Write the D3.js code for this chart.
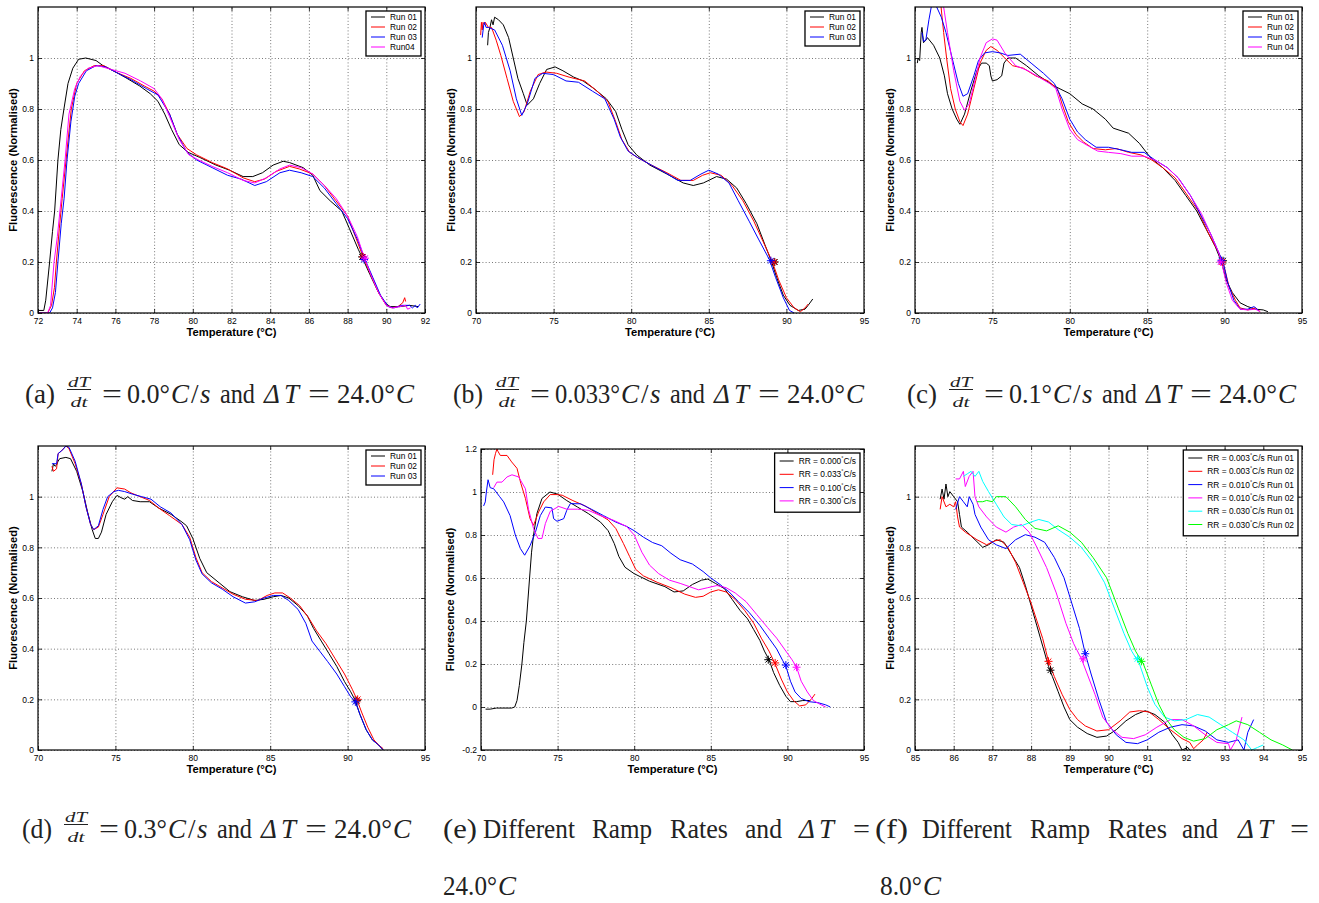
<!DOCTYPE html>
<html><head><meta charset="utf-8">
<script src="https://cdn.jsdelivr.net/npm/d3@7"></script>
<style>body{margin:0;background:#fff}svg{display:block}</style>
</head><body>
<svg id="c" width="1319" height="903"></svg>
<script>
// ---------------- DATA ----------------
// Panel (a): dT/dt = 0.0, ΔT = 24
const aRun01 = [[72.0,0.01],[72.3,0.01],[72.4,0.05],[72.6,0.2],[72.75,0.32],[72.86,0.4],[73.03,0.6],[73.18,0.72],[73.34,0.8],[73.55,0.9],[73.8,0.96],[74.1,0.995],[74.47,1.0],[75.0,0.99],[75.36,0.97],[75.9,0.95],[76.6,0.92],[77.26,0.89],[77.8,0.86],[78.2,0.83],[78.55,0.78],[78.9,0.72],[79.3,0.66],[79.76,0.63],[80.36,0.61],[81.2,0.58],[81.9,0.56],[82.6,0.535],[83.1,0.535],[83.6,0.55],[84.15,0.58],[84.67,0.595],[85.0,0.59],[85.7,0.57],[86.2,0.54],[86.57,0.48],[87.1,0.44],[87.7,0.4],[88.1,0.33],[88.55,0.25],[88.8,0.21],[89.16,0.15],[89.6,0.08],[89.93,0.04],[90.2,0.025],[90.7,0.025],[91.2,0.03],[91.66,0.025]];
const aRun02 = [[72.0,0.0],[72.5,0.0],[72.7,0.03],[72.85,0.1],[72.95,0.2],[73.1,0.33],[73.25,0.45],[73.45,0.6],[73.72,0.8],[74.0,0.9],[74.4,0.95],[74.9,0.97],[75.4,0.97],[76.0,0.945],[76.8,0.92],[77.5,0.89],[78.0,0.87],[78.4,0.84],[78.8,0.78],[79.2,0.7],[79.7,0.645],[80.2,0.62],[81.0,0.59],[81.8,0.565],[82.6,0.53],[83.2,0.515],[83.7,0.525],[84.3,0.555],[85.0,0.575],[85.5,0.565],[86.2,0.545],[86.8,0.5],[87.4,0.44],[88.0,0.38],[88.4,0.3],[88.8,0.22],[89.2,0.15],[89.6,0.08],[90.0,0.03],[90.3,0.02],[90.6,0.025],[90.85,0.04],[90.95,0.06],[91.0,0.045]];
const aRun03 = [[72.0,0.0],[72.6,0.0],[72.75,0.02],[72.9,0.08],[73.03,0.2],[73.2,0.35],[73.35,0.45],[73.5,0.6],[73.7,0.75],[73.9,0.85],[74.1,0.9],[74.5,0.95],[75.0,0.97],[75.5,0.965],[76.0,0.945],[76.8,0.915],[77.6,0.88],[78.2,0.855],[78.8,0.78],[79.2,0.7],[79.7,0.63],[80.2,0.6],[81.0,0.57],[81.8,0.54],[82.5,0.525],[83.2,0.5],[83.8,0.515],[84.5,0.55],[85.0,0.56],[85.6,0.55],[86.2,0.535],[86.8,0.49],[87.4,0.43],[88.0,0.37],[88.5,0.29],[88.9,0.21],[89.3,0.14],[89.7,0.07],[90.1,0.025],[90.4,0.02],[90.8,0.03],[91.2,0.03],[91.35,0.02],[91.5,0.03],[91.6,0.02],[91.75,0.035]];
const aRun04 = [[72.0,0.0],[72.5,0.0],[72.65,0.03],[72.83,0.2],[73.0,0.3],[73.2,0.45],[73.4,0.6],[73.6,0.78],[73.9,0.88],[74.2,0.93],[74.6,0.96],[75.1,0.97],[75.8,0.955],[76.5,0.94],[77.3,0.91],[78.0,0.88],[78.4,0.84],[78.8,0.77],[79.3,0.68],[79.8,0.62],[80.3,0.6],[81.0,0.575],[81.8,0.55],[82.6,0.52],[83.2,0.51],[83.8,0.53],[84.5,0.565],[85.0,0.58],[85.6,0.57],[86.2,0.545],[86.8,0.5],[87.4,0.45],[88.0,0.38],[88.5,0.3],[88.85,0.22],[89.2,0.15],[89.6,0.08],[90.0,0.03],[90.3,0.02],[90.7,0.025],[91.0,0.03],[91.1,0.015],[91.25,0.02]];
const aMarkers = [[88.75,0.22],[88.8,0.22],[88.85,0.21],[88.9,0.215]];
const aLabels = ["Run 01","Run 02","Run 03","Run04"];

// Panel (b): dT/dt = 0.033
const bRun01 = [[70.75,1.05],[70.8,1.1],[70.9,1.12],[71.0,1.15],[71.1,1.13],[71.2,1.16],[71.45,1.15],[71.76,1.13],[72.1,1.08],[72.4,1.0],[72.7,0.92],[73.05,0.86],[73.3,0.815],[73.7,0.84],[74.1,0.9],[74.55,0.955],[75.1,0.965],[75.6,0.95],[76.3,0.925],[76.9,0.91],[77.6,0.88],[78.4,0.84],[79.0,0.79],[79.4,0.72],[79.8,0.66],[80.35,0.62],[81.2,0.58],[82.3,0.545],[83.35,0.51],[84.0,0.5],[84.65,0.51],[85.5,0.535],[86.15,0.525],[86.8,0.49],[87.4,0.43],[88.1,0.35],[88.6,0.27],[89.05,0.2],[89.37,0.14],[89.8,0.07],[90.23,0.03],[90.77,0.01],[91.2,0.015],[91.4,0.03],[91.7,0.055]];
const bRun02 = [[70.3,1.09],[70.35,1.14],[70.4,1.11],[70.45,1.14],[70.55,1.13],[70.6,1.14],[70.8,1.12],[71.0,1.12],[71.3,1.07],[71.6,1.01],[72.0,0.92],[72.4,0.83],[72.8,0.77],[73.1,0.79],[73.5,0.87],[74.0,0.935],[74.5,0.945],[75.2,0.94],[76.0,0.925],[77.0,0.91],[77.8,0.87],[78.5,0.83],[79.0,0.75],[79.4,0.68],[79.9,0.63],[80.4,0.61],[81.3,0.58],[82.3,0.55],[83.2,0.52],[84.0,0.52],[84.6,0.54],[85.1,0.55],[85.8,0.54],[86.5,0.5],[87.2,0.44],[87.9,0.36],[88.5,0.28],[89.1,0.2],[89.5,0.13],[90.0,0.06],[90.5,0.02],[90.9,0.005],[91.2,0.02],[91.4,0.035]];
const bRun03 = [[70.4,1.08],[70.5,1.13],[70.55,1.14],[70.65,1.12],[70.8,1.12],[71.2,1.11],[71.7,1.05],[72.2,0.95],[72.6,0.84],[72.95,0.775],[73.3,0.82],[73.8,0.92],[74.3,0.94],[75.0,0.935],[75.8,0.91],[76.6,0.905],[77.5,0.87],[78.3,0.84],[78.9,0.76],[79.3,0.69],[79.8,0.635],[80.4,0.61],[81.3,0.58],[82.2,0.55],[83.0,0.52],[83.8,0.52],[84.5,0.545],[85.0,0.56],[85.6,0.545],[86.3,0.51],[86.9,0.44],[87.6,0.36],[88.2,0.29],[88.9,0.21],[89.3,0.14],[89.8,0.06],[90.2,0.01],[90.5,0.0]];
const bMarkers = [[89.25,0.2],[89.2,0.2],[89.0,0.205]];
const bLabels = ["Run 01","Run 02","Run 03"];

// Panel (c): dT/dt = 0.1
const cRun01 = [[70.15,0.98],[70.2,1.0],[70.3,0.99],[70.4,1.1],[70.45,1.12],[70.55,1.06],[70.7,1.07],[70.8,1.08],[71.2,1.05],[71.6,1.0],[71.9,0.93],[72.1,0.86],[72.4,0.8],[72.7,0.76],[72.9,0.74],[73.2,0.78],[73.6,0.87],[74.0,0.95],[74.3,0.98],[74.6,0.98],[74.8,0.97],[74.9,0.93],[75.0,0.91],[75.3,0.915],[75.6,0.93],[75.75,0.98],[76.0,1.0],[76.5,1.0],[77.2,0.97],[78.0,0.93],[79.0,0.89],[80.0,0.86],[80.8,0.82],[81.5,0.8],[82.3,0.76],[82.8,0.725],[83.8,0.705],[84.5,0.665],[85.2,0.61],[86.0,0.57],[86.8,0.52],[87.5,0.46],[88.2,0.4],[88.8,0.33],[89.4,0.26],[89.8,0.2],[90.1,0.13],[90.5,0.08],[91.0,0.04],[91.5,0.025],[92.0,0.015],[92.5,0.012],[92.8,0.005]];
const cRun02 = [[71.65,1.22],[71.85,1.1],[72.04,1.0],[72.3,0.88],[72.6,0.8],[72.9,0.75],[73.1,0.735],[73.4,0.78],[73.8,0.88],[74.2,0.98],[74.6,1.03],[74.9,1.045],[75.3,1.03],[75.8,1.0],[76.3,0.97],[77.0,0.96],[77.8,0.93],[78.6,0.91],[79.2,0.88],[79.5,0.82],[79.9,0.75],[80.4,0.7],[80.9,0.67],[81.5,0.645],[82.3,0.64],[83.0,0.645],[83.8,0.63],[84.6,0.62],[85.3,0.6],[86.0,0.57],[86.8,0.53],[87.5,0.47],[88.3,0.4],[88.9,0.32],[89.5,0.25],[89.9,0.2],[90.3,0.1],[90.7,0.05],[91.0,0.02],[91.5,0.012],[92.0,0.02],[92.3,0.005]];
const cRun03 = [[70.45,1.1],[70.55,1.065],[70.7,1.07],[70.9,1.15],[71.05,1.2],[71.2,1.23],[71.4,1.2],[71.7,1.16],[72.0,1.1],[72.4,1.0],[72.8,0.9],[73.1,0.85],[73.4,0.86],[73.8,0.93],[74.1,0.99],[74.5,1.02],[75.0,1.025],[75.5,1.02],[76.0,1.01],[76.8,1.015],[77.5,0.98],[78.3,0.94],[79.0,0.9],[79.5,0.84],[80.0,0.76],[80.5,0.71],[81.0,0.68],[81.7,0.65],[82.5,0.65],[83.3,0.64],[84.0,0.63],[84.8,0.63],[85.5,0.6],[86.3,0.57],[87.0,0.53],[87.8,0.46],[88.5,0.38],[89.1,0.31],[89.6,0.24],[89.9,0.2],[90.2,0.12],[90.6,0.05],[91.0,0.015],[91.5,0.015],[91.9,0.025],[92.2,0.01]];
const cRun04 = [[71.8,1.22],[71.9,1.18],[72.1,1.1],[72.5,0.95],[72.9,0.83],[73.2,0.795],[73.5,0.82],[73.9,0.92],[74.2,1.0],[74.6,1.06],[75.0,1.075],[75.3,1.07],[75.8,1.02],[76.5,0.97],[77.3,0.95],[78.0,0.925],[78.7,0.9],[79.1,0.88],[79.5,0.8],[80.0,0.72],[80.5,0.68],[81.2,0.655],[81.8,0.635],[82.5,0.63],[83.3,0.625],[84.0,0.615],[84.8,0.615],[85.5,0.6],[86.3,0.57],[87.0,0.53],[87.8,0.46],[88.5,0.39],[89.1,0.31],[89.6,0.24],[89.8,0.2],[90.1,0.12],[90.5,0.05],[91.0,0.015],[91.5,0.012],[92.0,0.015],[92.3,0.005]];
const cMarkers = [[89.9,0.205],[89.85,0.2],[89.8,0.205],[89.75,0.2]];
const cLabels = ["Run 01","Run 02","Run 03","Run 04"];

// Panel (d): dT/dt = 0.3
const dRun01 = [[70.9,1.1],[71.0,1.13],[71.1,1.12],[71.2,1.125],[71.3,1.14],[71.4,1.15],[71.8,1.155],[72.1,1.15],[72.5,1.1],[72.9,1.02],[73.2,0.94],[73.5,0.87],[73.7,0.835],[73.9,0.835],[74.1,0.86],[74.4,0.93],[74.8,0.98],[75.1,1.005],[75.4,0.995],[75.6,0.99],[75.8,1.0],[76.1,0.985],[76.6,0.98],[77.2,0.98],[77.8,0.955],[78.6,0.93],[79.3,0.9],[79.6,0.885],[80.0,0.835],[80.45,0.756],[80.9,0.7],[81.7,0.66],[82.4,0.625],[83.2,0.605],[84.0,0.59],[84.6,0.595],[85.2,0.605],[85.7,0.61],[86.2,0.6],[86.8,0.57],[87.4,0.53],[87.8,0.48],[88.3,0.43],[88.8,0.38],[89.3,0.33],[89.8,0.27],[90.2,0.23],[90.5,0.195],[90.8,0.14],[91.2,0.08],[91.6,0.04],[92.0,0.02],[92.3,0.0]];
const dRun02 = [[70.9,1.12],[71.0,1.1],[71.2,1.11],[71.3,1.17],[71.5,1.18],[71.8,1.2],[72.0,1.19],[72.4,1.13],[72.8,1.05],[73.1,0.96],[73.4,0.89],[73.6,0.87],[73.9,0.88],[74.2,0.93],[74.6,1.0],[75.1,1.035],[75.6,1.03],[76.0,1.015],[76.6,1.0],[77.2,0.985],[77.8,0.955],[78.5,0.925],[79.3,0.89],[79.8,0.84],[80.2,0.76],[80.6,0.7],[81.2,0.665],[81.9,0.64],[82.6,0.615],[83.4,0.595],[84.2,0.59],[84.8,0.61],[85.3,0.62],[85.8,0.62],[86.3,0.6],[86.9,0.57],[87.5,0.52],[88.0,0.47],[88.6,0.42],[89.2,0.36],[89.8,0.3],[90.3,0.24],[90.6,0.2],[90.9,0.15],[91.3,0.09],[91.7,0.04],[92.0,0.02],[92.3,0.005]];
const dRun03 = [[70.9,1.13],[71.2,1.13],[71.3,1.17],[71.6,1.185],[71.8,1.2],[72.0,1.195],[72.4,1.14],[72.8,1.05],[73.1,0.96],[73.4,0.89],[73.6,0.87],[73.9,0.885],[74.2,0.95],[74.5,1.0],[74.9,1.02],[75.2,1.025],[75.6,1.02],[76.1,1.01],[76.7,1.0],[77.3,0.99],[77.9,0.96],[78.6,0.935],[79.3,0.89],[79.8,0.83],[80.2,0.75],[80.6,0.695],[81.2,0.66],[81.9,0.635],[82.6,0.605],[83.4,0.58],[84.0,0.585],[84.6,0.6],[85.2,0.61],[85.7,0.61],[86.2,0.59],[86.8,0.555],[87.3,0.5],[87.7,0.43],[88.2,0.39],[88.7,0.35],[89.3,0.3],[89.8,0.25],[90.2,0.21],[90.5,0.19],[90.8,0.14],[91.2,0.08],[91.6,0.04],[92.0,0.02],[92.3,0.0]];
const dMarkers = [[90.6,0.195],[90.65,0.2],[90.5,0.19]];
const dLabels = ["Run 01","Run 02","Run 03"];

// Panel (e): different ramp rates, ΔT = 24
const eRR000 = [[70.3,-0.01],[70.6,-0.01],[71.0,-0.005],[71.5,-0.005],[72.0,-0.005],[72.2,0.0],[72.35,0.03],[72.5,0.1],[72.67,0.2],[72.8,0.3],[72.96,0.4],[73.17,0.6],[73.3,0.72],[73.43,0.8],[73.65,0.9],[73.98,0.97],[74.5,1.0],[75.0,0.99],[75.6,0.96],[76.3,0.93],[77.0,0.9],[77.8,0.86],[78.3,0.82],[78.7,0.76],[79.0,0.7],[79.4,0.65],[80.0,0.62],[81.0,0.585],[82.0,0.56],[82.6,0.535],[83.2,0.54],[83.8,0.57],[84.4,0.59],[84.8,0.595],[85.3,0.575],[85.9,0.55],[86.4,0.5],[86.9,0.45],[87.4,0.41],[87.8,0.36],[88.2,0.31],[88.5,0.26],[88.8,0.22],[89.1,0.16],[89.5,0.1],[89.9,0.05],[90.2,0.025],[90.6,0.025],[91.0,0.03],[91.5,0.03]];
const eRR033 = [[70.76,1.08],[70.85,1.15],[70.95,1.18],[71.04,1.2],[71.1,1.19],[71.26,1.17],[71.7,1.17],[72.0,1.14],[72.35,1.11],[72.6,1.04],[72.9,0.97],[73.2,0.876],[73.43,0.845],[73.76,0.907],[74.09,0.954],[74.52,0.988],[74.96,0.988],[75.3,0.985],[76.0,0.96],[76.8,0.935],[77.6,0.9],[78.3,0.87],[78.8,0.83],[79.3,0.76],[79.7,0.7],[80.1,0.64],[80.6,0.61],[81.5,0.58],[82.4,0.555],[83.3,0.525],[84.0,0.51],[84.5,0.515],[85.0,0.535],[85.5,0.545],[86.0,0.535],[86.6,0.5],[87.2,0.45],[87.8,0.39],[88.3,0.32],[88.8,0.26],[89.2,0.2],[89.6,0.13],[90.0,0.07],[90.4,0.03],[90.8,0.005],[91.2,0.01],[91.6,0.04],[91.8,0.06]];
const eRR100 = [[70.17,0.935],[70.28,0.954],[70.35,1.0],[70.46,1.057],[70.6,1.02],[70.83,1.015],[71.2,0.98],[71.48,0.954],[71.9,0.89],[72.24,0.8],[72.57,0.737],[72.85,0.706],[73.2,0.75],[73.54,0.81],[73.87,0.89],[74.2,0.93],[74.63,0.926],[74.74,0.876],[74.96,0.864],[75.4,0.876],[75.6,0.915],[75.83,0.946],[76.5,0.945],[77.2,0.92],[78.0,0.89],[78.8,0.86],[79.5,0.84],[80.0,0.82],[80.6,0.79],[81.2,0.765],[81.8,0.75],[82.4,0.715],[83.0,0.685],[83.8,0.665],[84.5,0.63],[85.0,0.6],[85.6,0.57],[86.2,0.535],[86.8,0.49],[87.5,0.44],[88.2,0.38],[88.8,0.32],[89.3,0.27],[89.7,0.215],[89.9,0.19],[90.2,0.12],[90.5,0.07],[90.9,0.04],[91.4,0.025],[92.0,0.02],[92.5,0.01],[92.8,0.0]];
const eRR300 = [[70.83,1.02],[71.04,1.046],[71.37,1.046],[71.7,1.07],[72.02,1.08],[72.46,1.07],[72.9,1.015],[73.1,0.92],[73.43,0.83],[73.72,0.784],[73.98,0.784],[74.2,0.853],[74.52,0.91],[75.07,0.933],[75.6,0.92],[76.3,0.92],[77.0,0.915],[77.8,0.89],[78.6,0.87],[79.5,0.84],[80.0,0.8],[80.5,0.72],[81.0,0.66],[81.6,0.62],[82.3,0.59],[83.0,0.575],[83.6,0.56],[84.2,0.545],[84.8,0.555],[85.4,0.565],[86.0,0.555],[86.6,0.53],[87.3,0.49],[88.0,0.43],[88.7,0.37],[89.3,0.32],[89.9,0.26],[90.3,0.22],[90.6,0.185],[90.9,0.12],[91.3,0.07],[91.7,0.03],[92.2,0.01],[92.5,0.0]];
const eMarkers = [[88.75,0.22],[89.2,0.205],[89.9,0.195],[90.6,0.185]];
const eLabels = ["RR = 0.000","RR = 0.033","RR = 0.100","RR = 0.300"];

// Panel (f): different ramp rates, ΔT = 8
const fRR003a = [[85.65,0.99],[85.7,1.03],[85.75,0.99],[85.8,1.05],[85.85,1.0],[85.9,1.02],[86.0,1.0],[86.1,0.98],[86.15,0.93],[86.2,0.88],[86.35,0.86],[86.55,0.83],[86.75,0.8],[86.9,0.81],[87.1,0.83],[87.3,0.82],[87.5,0.77],[87.7,0.72],[87.85,0.65],[88.0,0.57],[88.15,0.49],[88.3,0.41],[88.45,0.33],[88.55,0.29],[88.7,0.23],[88.85,0.17],[89.0,0.12],[89.2,0.09],[89.45,0.065],[89.7,0.05],[89.95,0.055],[90.2,0.08],[90.45,0.115],[90.7,0.14],[90.95,0.155],[91.2,0.14],[91.45,0.11],[91.65,0.06],[91.8,0.03],[91.9,0.0],[92.05,0.01],[92.1,0.0]];
const fRR003b = [[85.65,0.95],[85.7,1.0],[85.8,0.96],[85.9,0.97],[86.0,0.96],[86.05,0.98],[86.1,0.92],[86.15,0.88],[86.3,0.86],[86.6,0.83],[86.85,0.81],[87.05,0.825],[87.2,0.83],[87.4,0.8],[87.6,0.74],[87.8,0.66],[88.0,0.58],[88.15,0.51],[88.3,0.44],[88.45,0.35],[88.6,0.29],[88.8,0.22],[89.0,0.16],[89.2,0.12],[89.4,0.095],[89.7,0.075],[90.0,0.08],[90.3,0.115],[90.55,0.15],[90.8,0.155],[91.05,0.15],[91.3,0.12],[91.6,0.08],[91.9,0.045],[92.1,0.03],[92.2,0.005],[92.3,0.02],[92.45,0.04],[92.55,0.07]];
const fRR010a = [[86.05,0.95],[86.15,1.0],[86.25,0.98],[86.35,0.96],[86.4,1.0],[86.5,0.97],[86.55,0.93],[86.7,0.88],[86.9,0.83],[87.1,0.81],[87.35,0.795],[87.6,0.83],[87.85,0.85],[88.1,0.84],[88.35,0.82],[88.6,0.76],[88.85,0.68],[89.05,0.58],[89.25,0.48],[89.4,0.38],[89.55,0.3],[89.75,0.2],[89.95,0.11],[90.2,0.06],[90.45,0.03],[90.75,0.025],[91.0,0.04],[91.3,0.07],[91.6,0.09],[91.9,0.1],[92.2,0.095],[92.5,0.075],[92.8,0.04],[93.1,0.03],[93.35,0.04],[93.5,0.0],[93.6,0.07],[93.75,0.12]];
const fRR010b = [[86.05,1.07],[86.15,1.07],[86.25,1.1],[86.3,1.04],[86.4,1.08],[86.5,1.1],[86.55,1.0],[86.65,0.96],[86.85,0.92],[87.1,0.88],[87.35,0.86],[87.55,0.88],[87.75,0.89],[87.95,0.86],[88.15,0.8],[88.4,0.72],[88.65,0.62],[88.9,0.5],[89.1,0.42],[89.3,0.36],[89.45,0.3],[89.65,0.22],[89.85,0.13],[90.1,0.08],[90.35,0.05],[90.65,0.045],[90.95,0.06],[91.25,0.09],[91.6,0.12],[91.9,0.12],[92.2,0.095],[92.5,0.06],[92.8,0.03],[93.1,0.025],[93.15,0.0],[93.3,0.04],[93.45,0.13]];
const fRR030a = [[86.25,1.08],[86.35,1.09],[86.45,1.1],[86.55,1.08],[86.65,1.1],[86.75,1.06],[86.9,1.02],[87.1,0.97],[87.3,0.92],[87.5,0.89],[87.75,0.885],[88.0,0.9],[88.2,0.91],[88.45,0.9],[88.7,0.87],[89.0,0.84],[89.3,0.8],[89.6,0.74],[89.9,0.66],[90.15,0.56],[90.4,0.46],[90.6,0.39],[90.8,0.34],[91.0,0.25],[91.2,0.18],[91.45,0.13],[91.7,0.115],[92.0,0.12],[92.3,0.14],[92.6,0.13],[92.9,0.1],[93.2,0.07],[93.5,0.04],[93.7,0.0],[93.85,0.01],[94.0,0.02]];
const fRR030b = [[86.6,0.98],[86.75,0.98],[86.85,0.985],[87.0,0.98],[87.1,1.0],[87.35,1.0],[87.6,0.96],[87.85,0.91],[88.1,0.875],[88.4,0.865],[88.7,0.885],[89.0,0.86],[89.3,0.82],[89.6,0.76],[89.95,0.68],[90.25,0.56],[90.5,0.46],[90.7,0.39],[90.9,0.34],[91.1,0.26],[91.3,0.18],[91.5,0.12],[91.7,0.08],[91.95,0.05],[92.2,0.035],[92.5,0.045],[92.8,0.08],[93.1,0.1],[93.3,0.115],[93.6,0.1],[93.9,0.07],[94.2,0.04],[94.5,0.02],[94.75,0.0]];
const fMarkers = [[88.5,0.315],[88.45,0.35],[89.4,0.38],[89.35,0.36],[90.75,0.36],[90.85,0.35]];
const fLabels = ["RR = 0.003","RR = 0.003","RR = 0.010","RR = 0.010","RR = 0.030","RR = 0.030"];
const fRunTags = ["Run 01","Run 02","Run 01","Run 02","Run 01","Run 02"];

// Ticks
const xTicksA = [72,74,76,78,80,82,84,86,88,90,92];
const xTicks70 = [70,75,80,85,90,95];
const xTicksF = [85,86,87,88,89,90,91,92,93,94,95];
const yTicks = [0,0.2,0.4,0.6,0.8,1];
const yTicksE = [-0.2,0,0.2,0.4,0.6,0.8,1,1.2];

const colors4 = ["#000000","#ff0000","#0000ff","#ff00ff"];
const colors6 = ["#000000","#ff0000","#0000ff","#ff00ff","#00ffff","#00ff00"];

// ---------------- DRAWING ----------------
const svg = d3.select("#c");
const SANS = "'Liberation Sans', Arial, Helvetica, sans-serif";
const SERIF = "'Liberation Serif', 'Times New Roman', serif";

const panels = [
  {L:38, R:425, T:7, B:313, xd:[72,92], xt:xTicksA, yd:[0,1.2], yt:yTicks, ylOff:25,
   series:[aRun01,aRun02,aRun03,aRun04], markers:aMarkers, colors:colors4, labels:aLabels, legend:"run"},
  {L:476, R:864, T:7, B:313, xd:[70,95], xt:xTicks70, yd:[0,1.2], yt:yTicks, ylOff:25,
   series:[bRun01,bRun02,bRun03], markers:bMarkers, colors:colors4, labels:bLabels, legend:"run"},
  {L:915, R:1302, T:7, B:313, xd:[70,95], xt:xTicks70, yd:[0,1.2], yt:yTicks, ylOff:25,
   series:[cRun01,cRun02,cRun03,cRun04], markers:cMarkers, colors:colors4, labels:cLabels, legend:"run"},
  {L:38, R:425, T:446, B:750, xd:[70,95], xt:xTicks70, yd:[0,1.2], yt:yTicks, ylOff:25,
   series:[dRun01,dRun02,dRun03], markers:dMarkers, colors:colors4, labels:dLabels, legend:"run"},
  {L:481, R:864, T:449, B:750, xd:[70,95], xt:xTicks70, yd:[-0.2,1.2], yt:yTicksE, ylOff:31,
   series:[eRR000,eRR033,eRR100,eRR300], markers:eMarkers, colors:colors4, labels:eLabels, legend:"rr"},
  {L:915, R:1302, T:446, B:750, xd:[85,95], xt:xTicksF, yd:[0,1.2], yt:yTicks, ylOff:25,
   series:[fRR003a,fRR003b,fRR010a,fRR010b,fRR030a,fRR030b], markers:fMarkers, colors:colors6, labels:fLabels, tags:fRunTags, legend:"rr"}
];

const fmtY = d => (+d.toFixed(1)).toString();

panels.forEach((p, i) => {
  const x = d3.scaleLinear().domain(p.xd).range([p.L, p.R]);
  const y = d3.scaleLinear().domain(p.yd).range([p.B, p.T]);
  const W = p.R - p.L, H = p.B - p.T;
  const g = svg.append("g");

  g.append("rect").attr("x", p.L).attr("y", p.T).attr("width", W).attr("height", H).attr("fill", "#fff");

  const gx = g.append("g").attr("transform", `translate(0,${p.B})`)
    .call(d3.axisBottom(x).tickValues(p.xt).tickSize(-H).tickFormat(""));
  const gy = g.append("g").attr("transform", `translate(${p.L},0)`)
    .call(d3.axisLeft(y).tickValues(p.yt).tickSize(-W).tickFormat(""));
  [gx, gy].forEach(a => {
    a.select(".domain").remove();
    a.selectAll("line").attr("stroke", "#555").attr("stroke-width", 0.8).attr("stroke-dasharray", "1,2.2");
  });

  const cid = "clip" + i;
  svg.append("clipPath").attr("id", cid).append("rect")
    .attr("x", p.L).attr("y", p.T).attr("width", W).attr("height", H);

  const line = d3.line().x(d => x(d[0])).y(d => y(d[1]));
  const lg = g.append("g").attr("clip-path", `url(#${cid})`);
  p.series.forEach((s, k) => {
    lg.append("path").datum(s).attr("d", line).attr("fill", "none")
      .attr("stroke", p.colors[k]).attr("stroke-width", 1).attr("stroke-linejoin", "round");
  });
  const r = 4, q = r * 0.72;
  const star = `M${-r},0L${r},0M0,${-r}L0,${r}M${-q},${-q}L${q},${q}M${-q},${q}L${q},${-q}`;
  p.markers.forEach((m, k) => {
    lg.append("path").attr("d", star).attr("transform", `translate(${x(m[0])},${y(m[1])})`)
      .attr("fill", "none").attr("stroke", p.colors[k]).attr("stroke-width", 1);
  });

  const ax = g.append("g").attr("transform", `translate(0,${p.B})`)
    .call(d3.axisBottom(x).tickValues(p.xt).tickSizeInner(-4).tickSizeOuter(0).tickPadding(4.5).tickFormat(d => d));
  const ay = g.append("g").attr("transform", `translate(${p.L},0)`)
    .call(d3.axisLeft(y).tickValues(p.yt).tickSizeInner(-4).tickSizeOuter(0).tickPadding(4).tickFormat(fmtY));
  const at = g.append("g").attr("transform", `translate(0,${p.T})`)
    .call(d3.axisTop(x).tickValues(p.xt).tickSizeInner(-4).tickSizeOuter(0).tickFormat(""));
  const ar = g.append("g").attr("transform", `translate(${p.R},0)`)
    .call(d3.axisRight(y).tickValues(p.yt).tickSizeInner(-4).tickSizeOuter(0).tickFormat(""));
  [ax, ay, at, ar].forEach(a => {
    a.select(".domain").remove();
    a.selectAll("line").attr("stroke", "#000").attr("stroke-width", 0.8);
    a.selectAll("text").attr("font-family", SANS).attr("font-size", 8.5).attr("fill", "#000");
  });

  g.append("rect").attr("x", p.L).attr("y", p.T).attr("width", W).attr("height", H)
    .attr("fill", "none").attr("stroke", "#000").attr("stroke-width", 1.2);

  g.append("text").attr("x", (p.L + p.R) / 2).attr("y", p.B + 23).attr("text-anchor", "middle")
    .attr("font-family", SANS).attr("font-weight", "bold").attr("font-size", 11.2).text("Temperature (°C)");
  g.append("text").attr("transform", `translate(${p.L - p.ylOff},${(p.T + p.B) / 2}) rotate(-90)`)
    .attr("text-anchor", "middle").attr("dy", "0.36em")
    .attr("font-family", SANS).attr("font-weight", "bold").attr("font-size", 11.2).text("Fluorescence (Normalised)");

  // legend
  const rowH = p.legend === "rr" ? 13.3 : 10;
  const leg = g.append("g");
  const rows = [];
  const fs = 8.4;
  p.labels.forEach((lab, k) => {
    const ty = p.T + 4 + 6 + rowH * k + (p.legend === "rr" ? 2 : 0);
    const row = leg.append("g");
    row.append("line").attr("x1", 0).attr("x2", 14).attr("y1", ty).attr("y2", ty)
      .attr("stroke", p.colors[k]).attr("stroke-width", 1);
    const t = row.append("text").attr("x", 19).attr("y", ty + 3)
      .attr("font-family", SANS).attr("font-size", fs).attr("fill", "#000");
    if (p.legend === "rr") {
      t.append("tspan").text(lab);
      t.append("tspan").attr("font-size", 5.5).attr("dy", -4).text("°");
      t.append("tspan").attr("dy", 4).text("C/s" + (p.tags ? " " + p.tags[k] : ""));
    } else {
      t.text(lab);
    }
    rows.push(t);
  });
  const maxW = d3.max(rows, t => t.node().getComputedTextLength());
  const boxW = 5 + 19 + maxW + 4;
  const boxH = rowH * p.labels.length + 4 + (p.legend === "rr" ? 2 : 1);
  const bx = p.R - 4 - boxW, by = p.T + 4;
  leg.insert("rect", ":first-child").attr("x", -5).attr("y", by).attr("width", boxW).attr("height", boxH)
    .attr("fill", "#fff").attr("stroke", "#000").attr("stroke-width", 1.3);
  leg.attr("transform", `translate(${bx + 5},0)`);
});

// ---------------- CAPTIONS ----------------
// each piece is drawn at its natural size, then squeezed/stretched horizontally to the target width
function seg(x, y, len, str, italic, size) {
  const t = svg.append("text").attr("x", 0).attr("y", 0).attr("font-family", SERIF)
    .attr("font-size", size || 27).attr("fill", "#222").text(str);
  if (italic) t.attr("font-style", "italic");
  let sx = 1;
  if (len) {
    const w = t.node().getComputedTextLength();
    if (w > 0) sx = len / w;
  }
  t.attr("transform", `translate(${x},${y}) scale(${sx},1)`);
  return t;
}
function frac(cx, yb) {
  seg(cx - 11, yb - 16, 22, "dT", true, 15);
  svg.append("line").attr("x1", cx - 12).attr("x2", cx + 12).attr("y1", yb - 13.5).attr("y2", yb - 13.5)
    .attr("stroke", "#222").attr("stroke-width", 1);
  seg(cx - 8.5, yb + 4, 17, "dt", true, 15);
}
function deltaT(x, y) {
  seg(x, y, 0, "Δ", true);
  seg(x + 20, y, 0, "T", true);
}
function degC(x, y, num, numLen) {
  seg(x, y, numLen, num + "°");
  seg(x + numLen + 1, y, 0, "C", true);
}
function rateCaption(x0, yb, letter, rate, extra) {
  seg(x0, yb, 30, "(" + letter + ")");
  frac(x0 + 54, yb);
  seg(x0 + 77, yb, 20, "=");
  seg(x0 + 102, yb, 43 + extra, rate + "°");
  seg(x0 + 146 + extra, yb, 0, "C", true);
  seg(x0 + 166 + extra, yb, 0, "/");
  seg(x0 + 175 + extra, yb, 0, "s", true);
  seg(x0 + 195 + extra, yb, 35, "and");
  deltaT(x0 + 239 + extra, yb);
  seg(x0 + 283 + extra, yb, 22, "=");
  degC(x0 + 312 + extra, yb, "24.0", 58);
}
rateCaption(25, 403, "a", "0.0", 0);
rateCaption(453, 403, "b", "0.033", 22);
rateCaption(907, 403, "c", "0.1", 0);
rateCaption(22, 838, "d", "0.3", 0);

// (e)
seg(443, 838, 34, "(e)");
seg(483, 838, 92, "Different");
seg(592, 838, 60, "Ramp");
seg(670, 838, 58, "Rates");
seg(745, 838, 37, "and");
deltaT(799, 838);
seg(853, 838, 17, "=");
degC(443, 895, "24.0", 54);
// (f)
seg(875, 838, 33, "(f)");
seg(922, 838, 90, "Different");
seg(1030, 838, 60, "Ramp");
seg(1108, 838, 59, "Rates");
seg(1182, 838, 36, "and");
deltaT(1238, 838);
seg(1290, 838, 19, "=");
degC(880, 895, "8.0", 42);
</script>
</body></html>
